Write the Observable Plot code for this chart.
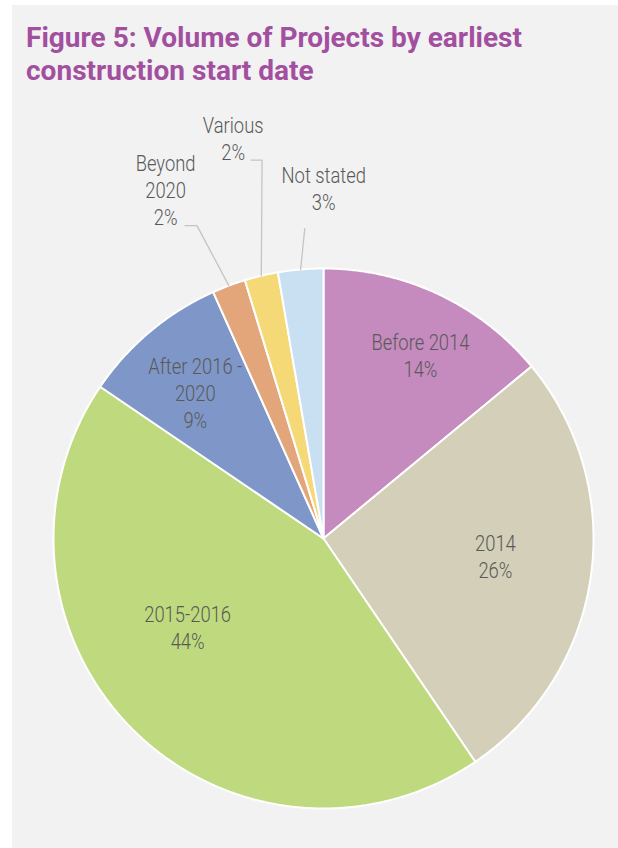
<!DOCTYPE html>
<html>
<head>
<meta charset="utf-8">
<script src="https://cdn.jsdelivr.net/npm/d3@7"></script>
<script src="https://cdn.jsdelivr.net/npm/@observablehq/plot@0.6"></script>
<style>
  html, body { margin: 0; padding: 0; background: #ffffff; }
  #panel { position: absolute; left: 12px; top: 5px; width: 606px; height: 843px; background: #f2f2f2; overflow: hidden; }
  .tline { position: absolute; left: 14px; margin: 0; white-space: nowrap; font-family: Roboto, "DejaVu Sans Condensed", sans-serif; font-weight: 700; font-size: 28px; line-height: 1; color: #a34fa0; transform-origin: 0 0; }
  #chart { position: absolute; left: 0; top: 100px; }
  #chart svg { background: transparent; overflow: visible; }
</style>
</head>
<body>
<div id="panel">
  <div class="tline" id="t1" style="top:19px">Figure 5: Volume of Projects by earliest</div>
  <div class="tline" id="t2" style="top:52px">construction start date</div>
  <div id="chart"></div>
</div>
<script>
// ---- data ----
const categories = ["Before 2014", "2014", "2015-2016", "After 2016 - 2020", "Beyond 2020", "Various", "Not stated"];
const shares = [14, 26.5, 44, 8.8, 2, 2, 2.7];
const shareLabels = ["14%", "26%", "44%", "9%", "2%", "2%", "3%"];
const labelText = ["Before 2014", "2014", "2015-2016", "After 2016 -\n2020", "Beyond\n2020", "Various", "Not stated"];
const colors = ["#c58bbe", "#d3cfb8", "#bfda7e", "#7f97c8", "#e3a67a", "#f4d976", "#c9e0f3"];

// ---- label layout (radius factor, angle shift in degrees from slice mid-angle) ----
const labelLayout = [
  {r: 0.77, da: 2.6},
  {r: 0.64, da: -2.2},
  {r: 0.60, da: 12},
  {r: 0.72, da: -1.3},
  {r: 1.42, da: -3.8, elbowR: 1.25, elbowDa: -1.5, tail: -12},
  {r: 1.52, da: 0.6, elbowR: 1.42, elbowDa: 4.1, tail: -11},
  {r: 1.30, da: 4.9, elbowR: 1.15, elbowDa: 1.4, tail: 0}
];

const R = 270;            // pixel radius
const W = 606, H = 743;
const cx = 311, cy = 433; // pie center inside svg

const total = d3.sum(shares);
const rad = (deg) => deg * Math.PI / 180;
const polar = (a, r) => ({x: r * Math.sin(a), y: r * Math.cos(a)});

// slice polygons
let acc = 0;
const slicePts = [];
const slices = categories.map((c, i) => {
  const a0 = acc / total * 2 * Math.PI;
  acc += shares[i];
  const a1 = acc / total * 2 * Math.PI;
  const n = Math.max(2, Math.ceil((a1 - a0) / 0.005));
  slicePts.push({cat: c, x: 0, y: 0});
  for (let k = 0; k <= n; k++) {
    const a = a0 + (a1 - a0) * k / n;
    slicePts.push({cat: c, ...polar(a, 1)});
  }
  slicePts.push({cat: c, x: 0, y: 0});
  return {cat: c, a0, a1, mid: (a0 + a1) / 2};
});

// labels
const labels = slices.map((s, i) => {
  const L = labelLayout[i];
  const p = polar(s.mid + rad(L.da), L.r);
  return {cat: s.cat, text: labelText[i] + "\n" + shareLabels[i], ...p};
});

// leader lines for the outside labels
const leaders = [];
slices.forEach((s, i) => {
  const L = labelLayout[i];
  if (L.elbowR === undefined) return;
  const e = polar(s.mid, 1);
  const b = polar(s.mid + rad(L.elbowDa), L.elbowR);
  leaders.push({cat: s.cat, ...e});
  leaders.push({cat: s.cat, ...b});
  if (L.tail) leaders.push({cat: s.cat, x: b.x + L.tail / R, y: b.y});
});

const chart = Plot.plot({
  width: W,
  height: H,
  style: {background: "transparent"},
  x: {domain: [-1, 1], range: [cx - R, cx + R], axis: null},
  y: {domain: [-1, 1], range: [cy + R, cy - R], axis: null},
  color: {domain: categories, range: colors},
  marks: [
    Plot.line(slicePts, {x: "x", y: "y", z: "cat", fill: "cat", stroke: "white", strokeWidth: 2, strokeLinejoin: "round", curve: "linear"}),
    Plot.line(leaders, {x: "x", y: "y", z: "cat", stroke: "#c4c4c4", strokeWidth: 1.3, curve: "linear"}),
    Plot.text(labels, {x: "x", y: "y", text: "text", fill: "#595959", fontSize: 22, lineHeight: 1.23,
      fontFamily: "Roboto, 'DejaVu Sans Condensed', sans-serif", fontWeight: 300})
  ]
});
document.getElementById("chart").appendChild(chart);

// condense the label text horizontally (the original uses a condensed typeface)
const texts = chart.querySelectorAll("text");
let ref = null;
texts.forEach(t => { if (t.textContent.startsWith("Before 2014")) ref = t; });
let sx = 0.8;
if (ref) {
  const tspan = ref.querySelector("tspan");
  const w = (tspan || ref).getComputedTextLength();
  if (w > 0) sx = 98 / w;
}
texts.forEach(t => {
  const tr = t.getAttribute("transform") || "";
  t.setAttribute("transform", tr + ` scale(${sx},1)`);
});

// condense the title to the original's width
const t1 = document.getElementById("t1"), t2 = document.getElementById("t2");
const s = 496 / t1.getBoundingClientRect().width;
t1.style.transform = `scale(${s},1)`;
t2.style.transform = `scale(${s},1)`;
</script>
</body>
</html>
